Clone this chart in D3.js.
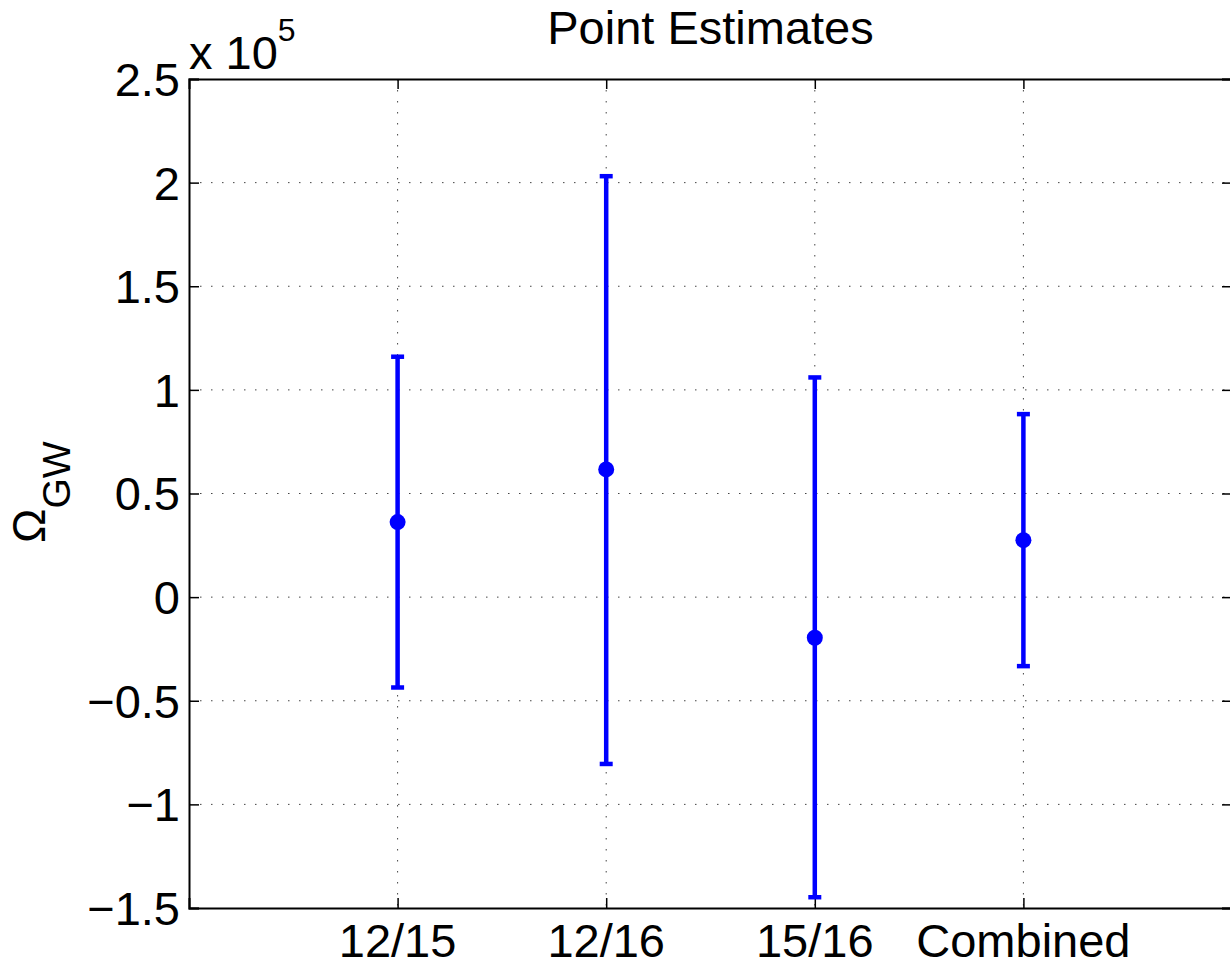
<html>
  <head>
    <script src='https://d3js.org/d3.v7.min.js'></script>
    <style>
      body { margin: 0; background: #fff; }
      text { font-family: 'Liberation Sans', Arial, Helvetica, sans-serif; fill: #000; }
    </style>
  </head>
  <body>
    <svg width=1230 height=964></svg>
    <script>
      // values in units of 1e5
      const PAIRS = ['12/15', '12/16', '15/16', 'Combined'];
      const ESTIMATE = [0.362, 0.616, -0.196, 0.275];
      const UPPER = [1.160, 2.031, 1.060, 0.883];
      const LOWER = [-0.436, -0.805, -1.448, -0.333];
      const Y_TICKS = [-1.5, -1, -0.5, 0, 0.5, 1, 1.5, 2, 2.5];

      const plotLeft = 189, plotRight = 1232, plotTop = 79, plotBottom = 908;
      const svg = d3.select('svg');

      const x = d3.scaleLinear().domain([0, 5]).range([plotLeft, plotRight]);
      const y = d3.scaleLinear().domain([-1.5, 2.5]).range([plotBottom, plotTop]);

      const fmt = d => (d < 0 ? '\u2212' : '') + Math.abs(d);

      // dotted grid
      const grid = svg.append('g').attr('stroke', '#444').attr('stroke-width', 1)
        .attr('stroke-dasharray', '1.5,9.5');
      grid.selectAll('.gy').data(Y_TICKS.slice(1, -1)).enter().append('line')
        .attr('x1', plotLeft).attr('x2', plotRight)
        .attr('y1', d => y(d)).attr('y2', d => y(d));
      grid.selectAll('.gx').data(PAIRS).enter().append('line')
        .attr('x1', (d, i) => x(i + 1)).attr('x2', (d, i) => x(i + 1))
        .attr('y1', plotTop).attr('y2', plotBottom);

      // axes with inward ticks
      const axL = svg.append('g').attr('transform', `translate(${plotLeft},0)`)
        .call(d3.axisRight(y).tickValues(Y_TICKS).tickSize(10).tickFormat(''));
      const axR = svg.append('g').attr('transform', `translate(${plotRight},0)`)
        .call(d3.axisLeft(y).tickValues(Y_TICKS).tickSize(10).tickFormat(''));
      const axB = svg.append('g').attr('transform', `translate(0,${plotBottom})`)
        .call(d3.axisTop(x).tickValues([1, 2, 3, 4]).tickSize(10).tickFormat(''));
      const axT = svg.append('g').attr('transform', `translate(0,${plotTop})`)
        .call(d3.axisBottom(x).tickValues([1, 2, 3, 4]).tickSize(10).tickFormat(''));
      [axL, axR, axB, axT].forEach(a => {
        a.select('.domain').attr('stroke', '#000').attr('stroke-width', 2);
        a.selectAll('.tick line').attr('stroke', '#000').attr('stroke-width', 1.5);
      });

      // tick labels
      svg.selectAll('.yl').data(Y_TICKS).enter().append('text')
        .attr('x', 180).attr('y', d => y(d)).attr('dy', '0.36em')
        .attr('text-anchor', 'end').attr('font-size', 47).text(fmt);
      svg.selectAll('.xl').data(PAIRS).enter().append('text')
        .attr('x', (d, i) => x(i + 1)).attr('y', 957)
        .attr('text-anchor', 'middle').attr('font-size', 47).text(d => d);

      // exponent
      const ex = svg.append('text').attr('x', 189).attr('y', 69).attr('font-size', 47);
      ex.append('tspan').text('x 10');
      ex.append('tspan').attr('dy', -28).attr('font-size', 32).text('5');

      // title
      svg.append('text').attr('x', (plotLeft + plotRight) / 2).attr('y', 44)
        .attr('text-anchor', 'middle').attr('font-size', 47).text('Point Estimates');

      // y label
      const yl = svg.append('text')
        .attr('transform', 'translate(45,543) rotate(-90)')
        .attr('font-size', 46);
      yl.append('tspan').text('\u03A9');
      yl.append('tspan').attr('dy', 25).attr('font-size', 39).text('GW');

      // error bars
      const bars = svg.append('g').attr('stroke', '#0000ff').attr('stroke-width', 4.5);
      bars.selectAll('.v').data(PAIRS).enter().append('line')
        .attr('x1', (d, i) => x(i + 1)).attr('x2', (d, i) => x(i + 1))
        .attr('y1', (d, i) => y(UPPER[i])).attr('y2', (d, i) => y(LOWER[i]));
      bars.selectAll('.cu').data(PAIRS).enter().append('line')
        .attr('x1', (d, i) => x(i + 1) - 6.5).attr('x2', (d, i) => x(i + 1) + 6.5)
        .attr('y1', (d, i) => y(UPPER[i])).attr('y2', (d, i) => y(UPPER[i]));
      bars.selectAll('.cl').data(PAIRS).enter().append('line')
        .attr('x1', (d, i) => x(i + 1) - 6.5).attr('x2', (d, i) => x(i + 1) + 6.5)
        .attr('y1', (d, i) => y(LOWER[i])).attr('y2', (d, i) => y(LOWER[i]));
      svg.selectAll('.pt').data(PAIRS).enter().append('circle')
        .attr('cx', (d, i) => x(i + 1)).attr('cy', (d, i) => y(ESTIMATE[i]))
        .attr('r', 8).attr('fill', '#0000ff');
    </script>
  </body>
</html>
